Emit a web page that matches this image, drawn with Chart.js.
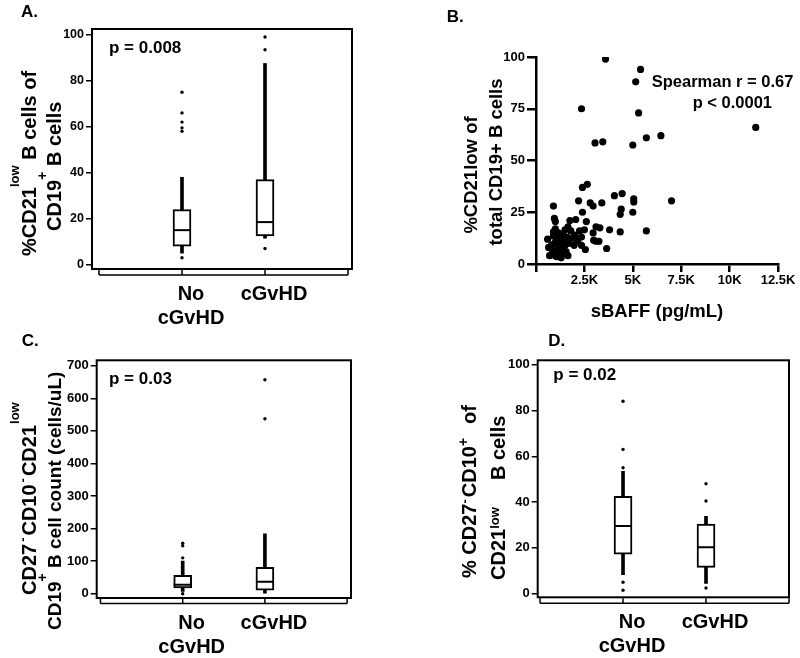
<!DOCTYPE html>
<html><head><meta charset="utf-8">
<script src="https://cdn.jsdelivr.net/npm/chart.js@4.4.1/dist/chart.umd.min.js"></script>
<style>
html,body{margin:0;padding:0;background:#fff;}
#wrap{position:relative;width:800px;height:658px;background:#fff;}
canvas{position:absolute;display:block;}
</style></head><body>
<div id="wrap">
<canvas id="cA" width="400" height="329" style="left:0;top:0"></canvas>
<canvas id="cB" width="400" height="329" style="left:400px;top:0"></canvas>
<canvas id="cC" width="400" height="329" style="left:0;top:329px"></canvas>
<canvas id="cD" width="400" height="329" style="left:400px;top:329px"></canvas>
</div>
<script>
// ---------- data ----------
const groupNames = ['No cGvHD', 'cGvHD'];
const groupLabels = [['No', 'cGvHD'], ['cGvHD']];
const groupPos = [1, 2];
const groupAxisTicks = [0, 1, 2, 3];

// Panel A: %CD21low B cells of CD19+ B cells
const aWhiskerLow = [5, 11.5];
const aQ1 = [8, 12.5];
const aMedian = [15, 18.5];
const aQ3 = [24, 37];
const aWhiskerHigh = [38, 87.5];
const aOutNo = [75, 66, 62, 59.5, 58, 3];
const aOutC = [99, 93.5, 7];
const aTicks = [0, 20, 40, 60, 80, 100];

// Panel B: sBAFF vs %CD21low
const bX = [3590, 5400, 5150, 2350, 5300, 11350, 6450, 5700, 3050, 3450, 5000,
  2650, 2400, 7000, 900, 4050, 4450, 5050, 5050, 2200, 2800, 2950, 3400, 2400,
  4400, 4350, 5000, 950, 1000, 1750, 2050, 2600, 3100, 3300, 3800, 4350, 5700,
  2500, 2250, 2950, 1900, 2150, 2350, 2550, 3100, 3250, 3650, 1500, 1650, 1300,
  900, 900, 1800, 1600, 2100, 1700, 600, 650, 700, 850, 950, 1000, 1050, 1100,
  1200, 1250, 1300, 1350, 1400, 1450, 1500, 1550, 1200, 800, 1150, 1650, 1000,
  1400, 2000, 2350, 1970, 2980, 1180, 1060];
const bY = [99, 94, 88, 75, 73, 66, 62, 61, 58.5, 59, 57.5,
  38.5, 37, 30.5, 28, 33, 34, 31.5, 30, 30.5, 29.5, 28, 29.5, 25,
  26.5, 24, 25, 22, 20.5, 21, 21.5, 20.5, 18, 17.5, 16.5, 15.5, 16,
  16.5, 16, 15, 12.5, 11, 9, 7, 11, 11, 7.5, 16.5, 18, 14.5,
  15.5, 13.5, 16, 13, 12, 10, 12, 8, 4, 6, 10, 4, 12, 7,
  10, 5, 3, 8, 11, 5, 9, 6, 13, 9, 15, 4, 17,
  14, 14, 13, 9, 11.5, 12, 3.5];
const bXTicks = [0, 2500, 5000, 7500, 10000, 12500];
const bYTicks = [0, 25, 50, 75, 100];

// Panel C: CD27-CD10-CD21low CD19+ B cell count
const cWhiskerLow = [7, 2];
const cQ1 = [17.5, 11];
const cMedian = [27.5, 37];
const cQ3 = [56.5, 81];
const cWhiskerHigh = [100, 184];
const cOutNo = [155, 147, 110, 0];
const cOutC = [657, 537];
const cTicks = [0, 100, 200, 300, 400, 500, 600, 700];

// Panel D: % CD27-CD10+ of CD21low B cells
const dWhiskerLow = [8.3, 4.5];
const dQ1 = [17.3, 11.5];
const dMedian = [29.6, 20.3];
const dQ3 = [42.5, 30.4];
const dWhiskerHigh = [53.4, 33.8];
const dOutNo = [84, 63, 55, 5, 1.5];
const dOutC = [48, 40.5, 2.5];
const dTicks = [0, 20, 40, 60, 80, 100];

// ---------- drawing helpers ----------
const FAM = "'Liberation Sans', Arial, Helvetica, sans-serif";
Chart.defaults.font.family = FAM;
Chart.defaults.color = '#000';

const DECOR = {};

function drawRich(ctx, it) {
  ctx.save();
  ctx.translate(it.x, it.y);
  if (it.rot) ctx.rotate(it.rot * Math.PI / 180);
  ctx.fillStyle = '#000';
  ctx.textBaseline = it.baseline || 'alphabetic';
  ctx.textAlign = 'left';
  let pos = 0;
  const parts = [];
  for (const s of it.segs) {
    const size = s.size || it.size;
    ctx.font = 'bold ' + size + 'px ' + FAM;
    const w = ctx.measureText(s.t).width;
    const x = (s.at != null) ? s.at : pos + (s.gap || 0);
    parts.push({ s, size, x, w });
    pos = x + w;
  }
  let off = 0;
  if (it.align === 'center') off = -pos / 2;
  else if (it.align === 'right') off = -pos;
  for (const p of parts) {
    ctx.font = 'bold ' + p.size + 'px ' + FAM;
    ctx.fillText(p.s.t, p.x + off, -(p.s.raise || 0));
  }
  ctx.restore();
}

const decorPlugin = {
  id: 'decor',
  afterDraw(chart) {
    const d = DECOR[chart.canvas.id];
    if (!d) return;
    const ctx = chart.ctx;
    const a = chart.chartArea;
    ctx.save();
    if (d.frame) {
      ctx.lineWidth = 2;
      ctx.strokeStyle = '#000';
      ctx.strokeRect(a.left, a.top, a.right - a.left, a.bottom - a.top);
    }
    if (d.catAxisGap != null) {
      const xs = chart.scales.x;
      const y = a.bottom + d.catAxisGap;
      const x0 = xs.getPixelForValue(groupAxisTicks[0]);
      const x1 = xs.getPixelForValue(groupAxisTicks[groupAxisTicks.length - 1]);
      ctx.lineWidth = 1.5;
      ctx.strokeStyle = '#000';
      ctx.beginPath();
      ctx.moveTo(x0, y); ctx.lineTo(x1, y);
      for (const v of groupAxisTicks) {
        const px = xs.getPixelForValue(v);
        ctx.moveTo(px, y); ctx.lineTo(px, y - 5);
      }
      ctx.stroke();
    }
    for (const t of d.texts) drawRich(ctx, t);
    ctx.restore();
  }
};
Chart.register(decorPlugin);

function boxChart(id, o) {
  const pts = (arr) => arr.map((v, i) => ({ x: groupPos[i], y: v }));
  const outliers = o.outNo.map(v => ({ x: groupPos[0], y: v }))
    .concat(o.outC.map(v => ({ x: groupPos[1], y: v })));
  return new Chart(document.getElementById(id), {
    type: 'bar',
    data: {
      datasets: [
        { type: 'scatter', label: 'median', data: pts(o.med), pointStyle: 'line',
          pointRadius: 9, pointBorderWidth: 2, pointBorderColor: '#000', borderColor: '#000',
          backgroundColor: '#000', order: 0 },
        { type: 'scatter', label: 'outliers', data: outliers, pointRadius: 1.7,
          pointBorderWidth: 0, backgroundColor: '#000', borderColor: '#000', order: 1 },
        { type: 'bar', label: 'box', data: groupPos.map((x, i) => ({ x, y: [o.q1[i], o.q3[i]] })),
          backgroundColor: '#fff', borderColor: '#000', borderWidth: 2, borderSkipped: false,
          barThickness: 18, grouped: false, order: 2 },
        { type: 'bar', label: 'whisker', data: groupPos.map((x, i) => ({ x, y: [o.lo[i], o.hi[i]] })),
          backgroundColor: '#000', borderWidth: 0, barThickness: 3, grouped: false, order: 3 }
      ]
    },
    options: {
      responsive: false, animation: false, events: [],
      layout: { padding: { left: 0, top: o.area.top, right: 400 - o.area.right, bottom: 0 } },
      plugins: { legend: { display: false }, tooltip: { enabled: false } },
      scales: {
        x: {
          type: 'linear', min: o.xmin, max: o.xmax, offset: false,
          afterBuildTicks: s => { s.ticks = groupPos.map(v => ({ value: v })); },
          grid: { display: false, drawTicks: false, offset: false }, border: { display: false },
          ticks: { callback: (v, i) => groupLabels[i], font: { size: 20, weight: 'bold' },
                   padding: 13, labelOffset: 9, maxRotation: 0, autoSkip: false, color: '#000' },
          afterFit: s => { s.height = 329 - o.area.bottom; }
        },
        y: {
          type: 'linear', min: o.ymin, max: o.ymax,
          afterBuildTicks: s => { s.ticks = o.ticks.map(v => ({ value: v })); },
          grid: { drawOnChartArea: false, drawTicks: true, tickLength: 6, color: '#000', lineWidth: 1.5 },
          border: { display: false },
          ticks: { font: { size: o.tickSize, weight: 'bold' }, padding: 2, color: '#000' },
          afterFit: s => { s.width = o.area.left; }
        }
      }
    }
  });
}

// ---------- Panel A ----------
DECOR.cA = {
  frame: true, catAxisGap: 6,
  texts: [
    { x: 21, y: 12, size: 17, baseline: 'middle', segs: [{ t: 'A.' }] },
    { x: 109, y: 48, size: 17, baseline: 'middle', segs: [{ t: 'p = 0.008' }] },
    { x: 35.5, y: 256, rot: -90, size: 20, segs: [{ t: '%CD21' }, { t: 'low', size: 13, raise: 17 }, { t: ' B cells of' }] },
    { x: 60.5, y: 231, rot: -90, size: 20, segs: [{ t: 'CD19' }, { t: '+', size: 14, raise: 14 }, { t: 'B cells', at: 65 }] }
  ]
};
boxChart('cA', {
  lo: aWhiskerLow, q1: aQ1, med: aMedian, q3: aQ3, hi: aWhiskerHigh, outNo: aOutNo, outC: aOutC,
  ticks: aTicks, ymin: -1.9, ymax: 102.5, xmin: -0.084, xmax: 3.048, tickSize: 12.5,
  area: { left: 92, right: 352, top: 29, bottom: 269 }
});

// ---------- Panel C ----------
DECOR.cC = {
  frame: true, catAxisGap: 5.5,
  texts: [
    { x: 21.7, y: 12, size: 17, baseline: 'middle', segs: [{ t: 'C.' }] },
    { x: 109, y: 50.7, size: 17, baseline: 'middle', segs: [{ t: 'p = 0.03' }] },
    { x: 35.5, y: 266, rot: -90, size: 20, segs: [{ t: 'CD27' }, { t: '-', size: 13, raise: 9, gap: 2 }, { t: 'CD10', gap: 2 }, { t: '-', size: 13, raise: 9, gap: 2 }, { t: 'CD21', gap: 2 }, { t: 'low', size: 13, raise: 17, gap: 1 }] },
    { x: 60.5, y: 301, rot: -90, size: 19, segs: [{ t: 'CD19' }, { t: '+', size: 14, raise: 14 }, { t: ' B cell count (cells/uL)' }] }
  ]
};
boxChart('cC', {
  lo: cWhiskerLow, q1: cQ1, med: cMedian, q3: cQ3, hi: cWhiskerHigh, outNo: cOutNo, outC: cOutC,
  ticks: cTicks, ymin: -13.2, ymax: 716.6, xmin: -0.046, xmax: 3.047, tickSize: 13,
  area: { left: 96.7, right: 351, top: 31.3, bottom: 269 }
});

// ---------- Panel D ----------
DECOR.cD = {
  frame: true, catAxisGap: 6,
  texts: [
    { x: 148.3, y: 12, size: 17, baseline: 'middle', segs: [{ t: 'D.' }] },
    { x: 153.3, y: 46.7, size: 17, baseline: 'middle', segs: [{ t: 'p = 0.02' }] },
    { x: 76, y: 249, rot: -90, size: 20, segs: [{ t: '% CD27' }, { t: '-', size: 13, raise: 7 }, { t: 'CD10', gap: 2 }, { t: '+', size: 14, raise: 8 }, { t: 'of', gap: 14 }] },
    { x: 105, y: 251, rot: -90, size: 20, segs: [{ t: 'CD21' }, { t: 'low', size: 13, raise: 6 }, { t: 'B cells', at: 100 }] }
  ]
};
boxChart('cD', {
  lo: dWhiskerLow, q1: dQ1, med: dMedian, q3: dQ3, hi: dWhiskerHigh, outNo: dOutNo, outC: dOutC,
  ticks: dTicks, ymin: -1.57, ymax: 101.9, xmin: -0.028, xmax: 3.0, tickSize: 13,
  area: { left: 137.7, right: 390, top: 31.3, bottom: 268.3 }
});

// ---------- Panel B ----------
DECOR.cB = {
  frame: false,
  texts: [
    { x: 46.7, y: 17, size: 17, baseline: 'middle', segs: [{ t: 'B.' }] },
    { x: 251.7, y: 82.7, size: 16.5, baseline: 'middle', segs: [{ t: 'Spearman r = 0.67' }] },
    { x: 292.7, y: 103.3, size: 16.5, baseline: 'middle', segs: [{ t: 'p < 0.0001' }] },
    { x: 257, y: 312, size: 18.5, baseline: 'middle', align: 'center', segs: [{ t: 'sBAFF (pg/mL)' }] },
    { x: 71.7, y: 175, rot: -90, size: 18.5, baseline: 'middle', align: 'center', segs: [{ t: '%CD21low of' }] },
    { x: 96.7, y: 162, rot: -90, size: 18.5, baseline: 'middle', align: 'center', segs: [{ t: 'total CD19+ B cells' }] }
  ]
};
new Chart(document.getElementById('cB'), {
  type: 'scatter',
  data: { datasets: [{ label: 'patients', data: bX.map((x, i) => ({ x, y: bY[i] })),
    pointRadius: 3.6, backgroundColor: '#000', borderColor: '#000', pointBorderWidth: 0 }] },
  options: {
    responsive: false, animation: false, events: [],
    layout: { padding: { left: 0, top: 57, right: 22, bottom: 0 } },
    plugins: { legend: { display: false }, tooltip: { enabled: false } },
    scales: {
      x: {
        type: 'linear', min: 0, max: 12500,
        afterBuildTicks: s => { s.ticks = bXTicks.map(v => ({ value: v })); },
        ticks: { callback: v => v === 0 ? '' : (v / 1000) + 'K', font: { size: 13, weight: 'bold' },
                 padding: 1, maxRotation: 0, autoSkip: false, color: '#000' },
        grid: { drawOnChartArea: false, tickLength: 8, color: '#000', lineWidth: 2.5 },
        border: { color: '#000', width: 2.5 },
        afterFit: s => { s.height = 329 - 264; }
      },
      y: {
        type: 'linear', min: 0, max: 100,
        afterBuildTicks: s => { s.ticks = bYTicks.map(v => ({ value: v })); },
        ticks: { font: { size: 13, weight: 'bold' }, padding: 2, color: '#000' },
        grid: { drawOnChartArea: false, tickLength: 9, color: '#000', lineWidth: 2.5 },
        border: { color: '#000', width: 2.5 },
        afterFit: s => { s.width = 136; }
      }
    }
  }
});
</script>
</body></html>
